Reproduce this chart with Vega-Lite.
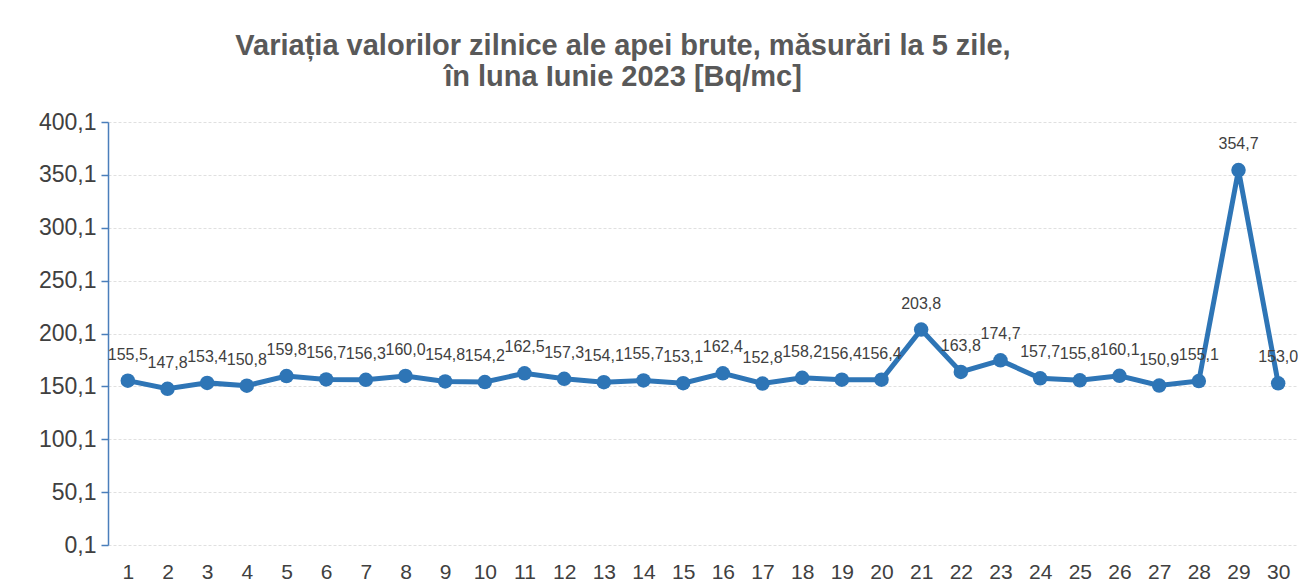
{
  "$schema": "https://vega.github.io/schema/vega-lite/v6.json",
  "autosize": {"type": "none"},
  "padding": {"left": 108, "top": 122, "right": 0, "bottom": 43},
  "width": 1190,
  "height": 423,
  "background": "white",
  "title": {
    "text": ["Variația valorilor zilnice ale apei brute, măsurări la 5 zile,", "în luna Iunie 2023 [Bq/mc]"],
    "font": "Liberation Sans",
    "fontSize": 29,
    "fontWeight": "bold",
    "color": "#595959",
    "anchor": "middle",
    "frame": "group",
    "dx": -80,
    "offset": 19,
    "lineHeight": 31
  },
  "data": {
    "values": [
      {"zi": 1, "v": 155.5}, {"zi": 2, "v": 147.8}, {"zi": 3, "v": 153.4}, {"zi": 4, "v": 150.8},
      {"zi": 5, "v": 159.8}, {"zi": 6, "v": 156.7}, {"zi": 7, "v": 156.3}, {"zi": 8, "v": 160.0},
      {"zi": 9, "v": 154.8}, {"zi": 10, "v": 154.2}, {"zi": 11, "v": 162.5}, {"zi": 12, "v": 157.3},
      {"zi": 13, "v": 154.1}, {"zi": 14, "v": 155.7}, {"zi": 15, "v": 153.1}, {"zi": 16, "v": 162.4},
      {"zi": 17, "v": 152.8}, {"zi": 18, "v": 158.2}, {"zi": 19, "v": 156.4}, {"zi": 20, "v": 156.4},
      {"zi": 21, "v": 203.8}, {"zi": 22, "v": 163.8}, {"zi": 23, "v": 174.7}, {"zi": 24, "v": 157.7},
      {"zi": 25, "v": 155.8}, {"zi": 26, "v": 160.1}, {"zi": 27, "v": 150.9}, {"zi": 28, "v": 155.1},
      {"zi": 29, "v": 354.7}, {"zi": 30, "v": 153.0}
    ]
  },
  "transform": [
    {"calculate": "replace(format(datum.v, '.1f'), '.', ',')", "as": "lbl"}
  ],
  "encoding": {
    "x": {
      "field": "zi",
      "type": "ordinal",
      "scale": {"type": "point", "padding": 0.5},
      "axis": {
        "title": null,
        "labelAngle": 0,
        "labelFont": "Liberation Sans",
        "labelFontSize": 21,
        "labelColor": "#404040",
        "labelPadding": 16,
        "domain": false,
        "ticks": false,
        "grid": false
      }
    },
    "y": {
      "field": "v",
      "type": "quantitative",
      "scale": {"domain": [0.1, 400.1], "nice": false, "zero": false},
      "axis": {
        "title": null,
        "values": [0.1, 50.1, 100.1, 150.1, 200.1, 250.1, 300.1, 350.1, 400.1],
        "labelExpr": "replace(format(datum.value, '.1f'), '.', ',')",
        "labelFont": "Liberation Sans",
        "labelFontSize": 23,
        "labelColor": "#404040",
        "labelPadding": 5,
        "domainColor": "#4a7ebb",
        "domainWidth": 1.5,
        "tickColor": "#4a7ebb",
        "tickSize": 7,
        "tickWidth": 1.5,
        "grid": true,
        "gridColor": "#e0e0e0",
        "gridDash": [3, 2],
        "gridWidth": 1
      }
    }
  },
  "layer": [
    {
      "mark": {"type": "line", "color": "#2e75b6", "strokeWidth": 5}
    },
    {
      "mark": {"type": "point", "filled": true, "opacity": 1, "color": "#2e75b6", "size": 210, "shape": "circle"}
    },
    {
      "mark": {"type": "text", "dy": -26, "font": "Liberation Sans", "fontSize": 16, "color": "#404040", "baseline": "middle"},
      "encoding": {"text": {"field": "lbl"}}
    }
  ],
  "config": {"view": {"stroke": null}}
}
